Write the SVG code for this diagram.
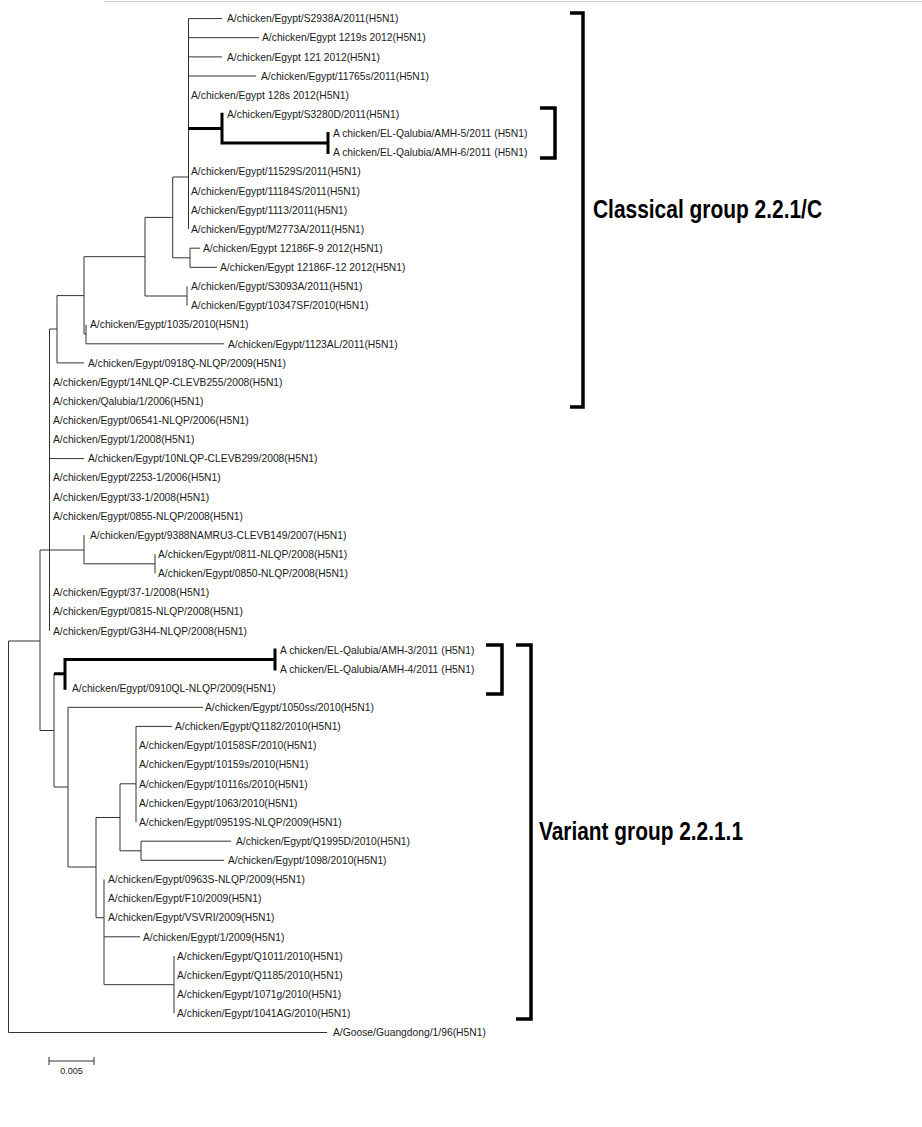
<svg xmlns="http://www.w3.org/2000/svg" width="922" height="1127" viewBox="0 0 922 1127">
<style>
.lf{font-family:"Liberation Sans",Arial,sans-serif;font-size:10.3px;fill:#1a1a1a}
.br{stroke:#333;stroke-width:1;fill:none}
.tk{stroke:#000;stroke-width:3;fill:none}
.bk{stroke:#000;stroke-width:3.5;fill:none}
.grp{font-family:"Liberation Sans",Arial,sans-serif;font-size:25px;font-weight:bold;fill:#000}
.sc{font-family:"Liberation Sans",Arial,sans-serif;font-size:9px;fill:#222}
</style>
<rect width="922" height="1127" fill="#fff"/>
<line x1="104" y1="1.5" x2="922" y2="1.5" stroke="#c8c8c8" stroke-width="1"/>
<g id="connectors">
<path class="br" d="M188.5,18.6V229 M188.5,18.6H222 M188.5,37.7H259 M188.5,56.9H222 M188.5,76H256"/>
<path class="br" d="M172.7,177H188.5 M172.7,177V257.8 M172.7,257.8H190 M190,248.2V267.3 M190,248.2H200 M190,267.3H217"/>
<path class="br" d="M145,217.4H172.7 M145,217.4V296 M145,296H187 M187,286.4V305.6"/>
<path class="br" d="M84,256.7H145 M84,256.7V334 M84,334H86 M86,324.7V343.8 M86,343.8H224"/>
<path class="br" d="M57,295.6H84 M57,295.6V362.9 M57,362.9H84"/>
<path class="br" d="M49.5,329H57 M49.5,329V630.8 M49.5,458.6H84"/>
<path class="br" d="M40,550H84 M84,535.1V563.8 M84,563.8H155 M155,554.2V573.4"/>
<path class="br" d="M40,550V730.5 M8.5,641H40 M8.5,641V1032.5 M8.5,1032.5H327"/>
<path class="br" d="M40,730.5H54 M54,673.8V787 M54,787H68 M68,707.3V867 M68,707.3H203"/>
<path class="br" d="M68,867H96 M96,817.5V917.7 M96,817.5H120 M120,783.8V850.8 M120,783.8H136 M136,726.4V822.1 M136,726.4H172"/>
<path class="br" d="M120,850.8H141 M141,841.2V860.3 M141,841.2H231 M141,860.3H224"/>
<path class="br" d="M96,917.7H104 M104,879.5V984.7 M104,936.8H140 M104,984.7H174 M174,956V1013.4"/>
<path class="tk" d="M188.5,128.6H222 M222,112.8V144.5 M222,143H328 M328,131.9V154"/>
<path class="tk" d="M54,673.8H65 M65,658V689.7 M65,659.5H275 M275,648.4V670.5"/>
</g>
<g id="leaves">
<g id="n1"><text class="lf" x="227" y="22.3">A/chicken/Egypt/S2938A/2011(H5N1)</text></g>
<g id="n2"><text class="lf" x="262" y="41.4">A/chicken/Egypt 1219s 2012(H5N1)</text></g>
<g id="n3"><text class="lf" x="227" y="60.6">A/chicken/Egypt 121 2012(H5N1)</text></g>
<g id="n4"><text class="lf" x="261" y="79.7">A/chicken/Egypt/11765s/2011(H5N1)</text></g>
<g id="n5"><text class="lf" x="191" y="98.8">A/chicken/Egypt 128s 2012(H5N1)</text></g>
<g id="n6"><text class="lf" x="227" y="118">A/chicken/Egypt/S3280D/2011(H5N1)</text></g>
<g id="n7"><text class="lf" x="333" y="137.1">A chicken/EL-Qalubia/AMH-5/2011 (H5N1)</text></g>
<g id="n8"><text class="lf" x="333" y="156.2">A chicken/EL-Qalubia/AMH-6/2011 (H5N1)</text></g>
<g id="n9"><text class="lf" x="191" y="175.3">A/chicken/Egypt/11529S/2011(H5N1)</text></g>
<g id="n10"><text class="lf" x="191" y="194.5">A/chicken/Egypt/11184S/2011(H5N1)</text></g>
<g id="n11"><text class="lf" x="191" y="213.6">A/chicken/Egypt/1113/2011(H5N1)</text></g>
<g id="n12"><text class="lf" x="191" y="232.7">A/chicken/Egypt/M2773A/2011(H5N1)</text></g>
<g id="n13"><text class="lf" x="203" y="251.9">A/chicken/Egypt 12186F-9 2012(H5N1)</text></g>
<g id="n14"><text class="lf" x="220" y="271">A/chicken/Egypt 12186F-12 2012(H5N1)</text></g>
<g id="n15"><text class="lf" x="191" y="290.1">A/chicken/Egypt/S3093A/2011(H5N1)</text></g>
<g id="n16"><text class="lf" x="191" y="309.3">A/chicken/Egypt/10347SF/2010(H5N1)</text></g>
<g id="n17"><text class="lf" x="90" y="328.4">A/chicken/Egypt/1035/2010(H5N1)</text></g>
<g id="n18"><text class="lf" x="228" y="347.5">A/chicken/Egypt/1123AL/2011(H5N1)</text></g>
<g id="n19"><text class="lf" x="88" y="366.6">A/chicken/Egypt/0918Q-NLQP/2009(H5N1)</text></g>
<g id="n20"><text class="lf" x="53" y="385.8">A/chicken/Egypt/14NLQP-CLEVB255/2008(H5N1)</text></g>
<g id="n21"><text class="lf" x="53" y="404.9">A/chicken/Qalubia/1/2006(H5N1)</text></g>
<g id="n22"><text class="lf" x="53" y="424">A/chicken/Egypt/06541-NLQP/2006(H5N1)</text></g>
<g id="n23"><text class="lf" x="53" y="443.2">A/chicken/Egypt/1/2008(H5N1)</text></g>
<g id="n24"><text class="lf" x="88" y="462.3">A/chicken/Egypt/10NLQP-CLEVB299/2008(H5N1)</text></g>
<g id="n25"><text class="lf" x="53" y="481.4">A/chicken/Egypt/2253-1/2006(H5N1)</text></g>
<g id="n26"><text class="lf" x="53" y="500.6">A/chicken/Egypt/33-1/2008(H5N1)</text></g>
<g id="n27"><text class="lf" x="53" y="519.7">A/chicken/Egypt/0855-NLQP/2008(H5N1)</text></g>
<g id="n28"><text class="lf" x="90" y="538.8">A/chicken/Egypt/9388NAMRU3-CLEVB149/2007(H5N1)</text></g>
<g id="n29"><text class="lf" x="158" y="557.9">A/chicken/Egypt/0811-NLQP/2008(H5N1)</text></g>
<g id="n30"><text class="lf" x="158" y="577.1">A/chicken/Egypt/0850-NLQP/2008(H5N1)</text></g>
<g id="n31"><text class="lf" x="53" y="596.2">A/chicken/Egypt/37-1/2008(H5N1)</text></g>
<g id="n32"><text class="lf" x="53" y="615.3">A/chicken/Egypt/0815-NLQP/2008(H5N1)</text></g>
<g id="n33"><text class="lf" x="53" y="634.5">A/chicken/Egypt/G3H4-NLQP/2008(H5N1)</text></g>
<g id="n34"><text class="lf" x="280" y="653.6">A chicken/EL-Qalubia/AMH-3/2011 (H5N1)</text></g>
<g id="n35"><text class="lf" x="280" y="672.7">A chicken/EL-Qalubia/AMH-4/2011 (H5N1)</text></g>
<g id="n36"><text class="lf" x="72" y="691.9">A/chicken/Egypt/0910QL-NLQP/2009(H5N1)</text></g>
<g id="n37"><text class="lf" x="205" y="711">A/chicken/Egypt/1050ss/2010(H5N1)</text></g>
<g id="n38"><text class="lf" x="175" y="730.1">A/chicken/Egypt/Q1182/2010(H5N1)</text></g>
<g id="n39"><text class="lf" x="139" y="749.2">A/chicken/Egypt/10158SF/2010(H5N1)</text></g>
<g id="n40"><text class="lf" x="139" y="768.4">A/chicken/Egypt/10159s/2010(H5N1)</text></g>
<g id="n41"><text class="lf" x="139" y="787.5">A/chicken/Egypt/10116s/2010(H5N1)</text></g>
<g id="n42"><text class="lf" x="139" y="806.6">A/chicken/Egypt/1063/2010(H5N1)</text></g>
<g id="n43"><text class="lf" x="139" y="825.8">A/chicken/Egypt/09519S-NLQP/2009(H5N1)</text></g>
<g id="n44"><text class="lf" x="236" y="844.9">A/chicken/Egypt/Q1995D/2010(H5N1)</text></g>
<g id="n45"><text class="lf" x="228" y="864">A/chicken/Egypt/1098/2010(H5N1)</text></g>
<g id="n46"><text class="lf" x="108" y="883.2">A/chicken/Egypt/0963S-NLQP/2009(H5N1)</text></g>
<g id="n47"><text class="lf" x="108" y="902.3">A/chicken/Egypt/F10/2009(H5N1)</text></g>
<g id="n48"><text class="lf" x="108" y="921.4">A/chicken/Egypt/VSVRI/2009(H5N1)</text></g>
<g id="n49"><text class="lf" x="143" y="940.5">A/chicken/Egypt/1/2009(H5N1)</text></g>
<g id="n50"><text class="lf" x="177" y="959.7">A/chicken/Egypt/Q1011/2010(H5N1)</text></g>
<g id="n51"><text class="lf" x="177" y="978.8">A/chicken/Egypt/Q1185/2010(H5N1)</text></g>
<g id="n52"><text class="lf" x="177" y="997.9">A/chicken/Egypt/1071g/2010(H5N1)</text></g>
<g id="n53"><text class="lf" x="177" y="1017.1">A/chicken/Egypt/1041AG/2010(H5N1)</text></g>
<g id="n54"><text class="lf" x="333" y="1036.2">A/Goose/Guangdong/1/96(H5N1)</text></g>
</g>
<g id="classical">
<path class="bk" d="M540,108H555V158H540"/>
<path class="bk" d="M570,13H583V407H570"/>
<text class="grp" x="593" y="218" textLength="229" lengthAdjust="spacingAndGlyphs">Classical group 2.2.1/C</text>
</g>
<g id="variant">
<path class="bk" d="M486,645H502V694H486"/>
<path class="bk" d="M516,645H531V1019H516"/>
<text class="grp" x="539" y="840" textLength="204" lengthAdjust="spacingAndGlyphs">Variant group 2.2.1.1</text>
</g>
<g id="scalebar">
<path class="br" d="M49,1061H94 M49,1057V1065 M94,1057V1065"/>
<text class="sc" x="71.5" y="1073.5" text-anchor="middle">0.005</text>
</g>
</svg>
